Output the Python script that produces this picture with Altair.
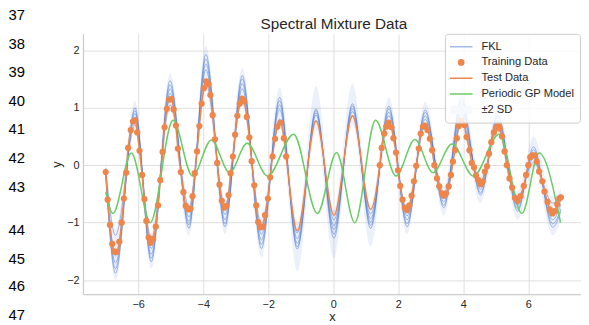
import altair as alt
import pandas as pd

# ---------------- data ----------------
# training points (orange dots), left block
train_left_x = [-7.00, -6.94, -6.87, -6.80, -6.74, -6.67, -6.58, -6.51, -6.44, -6.37,
                -6.31, -6.23, -6.16, -6.09, -6.03, -5.96, -5.88, -5.81, -5.75, -5.68,
                -5.62, -5.54, -5.46, -5.39, -5.32, -5.25, -5.19, -5.12, -5.05, -4.98,
                -4.91, -4.84, -4.78, -4.69, -4.61, -4.54, -4.46, -4.39, -4.33, -4.26,
                -4.19, -4.12, -4.05, -3.98, -3.91, -3.84, -3.78, -3.71, -3.64, -3.57,
                -3.50, -3.43, -3.36, -3.29, -3.22, -3.16, -3.09, -3.02, -2.95, -2.88,
                -2.81, -2.74, -2.66, -2.58, -2.51, -2.43, -2.37, -2.31, -2.24, -2.17,
                -2.10, -2.01, -1.94, -1.87, -1.79, -1.72, -1.62, -1.52, -1.45]
train_left_y = [-0.12, -0.60, -1.04, -1.37, -1.50, -1.51, -1.33, -1.00, -0.58, -0.13,
                0.30, 0.61, 0.76, 0.78, 0.57, 0.25, -0.17, -0.59, -0.97, -1.26,
                -1.35, -1.28, -1.07, -0.70, -0.26, 0.23, 0.66, 0.98, 1.14, 1.15,
                0.97, 0.69, 0.29, -0.12, -0.47, -0.71, -0.77, -0.76, -0.54, -0.14,
                0.24, 0.68, 1.07, 1.34, 1.46, 1.41, 1.22, 0.87, 0.45, 0.04,
                -0.34, -0.62, -0.74, -0.71, -0.52, -0.14, 0.15, 0.53, 0.86, 1.07,
                1.16, 1.11, 0.84, 0.48, 0.07, -0.35, -0.70, -0.99, -1.08, -1.07,
                -0.87, -0.58, -0.21, 0.15, 0.46, 0.67, 0.74, 0.47, 0.15]
# training points, right block
train_right_x = [1.43, 1.49, 1.57, 1.63, 1.70, 1.79, 1.85, 1.93, 1.99, 2.06,
                 2.13, 2.20, 2.27, 2.34, 2.41, 2.48, 2.55, 2.63, 2.69, 2.76,
                 2.83, 2.90, 2.97, 3.04, 3.11, 3.19, 3.26, 3.34, 3.40, 3.47,
                 3.55, 3.62, 3.68, 3.75, 3.80, 3.86, 3.94, 4.03, 4.10, 4.19,
                 4.26, 4.33, 4.39, 4.46, 4.53, 4.59, 4.66, 4.73, 4.79, 4.86,
                 4.94, 5.00, 5.07, 5.12, 5.19, 5.27, 5.34, 5.42, 5.50, 5.59,
                 5.67, 5.76, 5.86, 5.93, 6.00, 6.06, 6.13, 6.20, 6.26, 6.33,
                 6.43, 6.50, 6.59, 6.66, 6.74, 6.81, 6.89, 6.95, 7.00]
train_right_y = [0.00, 0.30, 0.55, 0.67, 0.74, 0.66, 0.47, 0.22, -0.09, -0.36,
                 -0.60, -0.74, -0.78, -0.70, -0.53, -0.28, -0.01, 0.29, 0.55, 0.67,
                 0.69, 0.61, 0.46, 0.26, 0.00, -0.23, -0.37, -0.49, -0.53, -0.49,
                 -0.37, -0.17, 0.06, 0.26, 0.47, 0.68, 0.77, 0.70, 0.49, 0.26,
                 0.04, -0.04, -0.18, -0.26, -0.33, -0.29, -0.11, -0.02, 0.20, 0.40,
                 0.57, 0.65, 0.70, 0.64, 0.50, 0.24, 0.00, -0.23, -0.39, -0.57,
                 -0.62, -0.54, -0.36, -0.17, 0.00, 0.14, 0.17, 0.17, 0.06, -0.11,
                 -0.28, -0.46, -0.64, -0.77, -0.84, -0.80, -0.68, -0.58, -0.56]
# test curve in the gap between the training blocks (extrema)
gap_x = [-1.11, -0.53, 0.02, 0.59, 1.15]
gap_y = [-1.14, 0.77, -0.87, 0.86, -0.77]

# FKL samples, read at the extrema of the curves
fkl_x = [-7.00, -6.70, -6.10, -5.60, -5.02, -4.44, -3.92, -3.33, -2.80, -2.21,
         -1.65, -1.11, -0.53, 0.02, 0.59, 1.15, 1.71, 2.27, 2.83, 3.40,
         3.94, 4.53, 5.06, 5.67, 6.16, 6.75, 7.00]
fkl_s1 = [-0.18, -1.88, 1.00, -1.68, 1.47, -1.10, 1.93, -1.07, 1.56, -1.45,
          1.18, -1.46, 0.98, -1.27, 1.07, -1.10, 1.03, -1.07, 0.96, -0.74,
          1.15, -0.52, 0.88, -0.80, 0.32, -1.08, -0.80]
fkl_s2 = [-0.15, -1.80, 0.95, -1.62, 1.40, -1.04, 1.85, -1.02, 1.50, -1.38,
          1.12, -1.42, 0.95, -1.20, 1.03, -1.05, 0.98, -1.02, 0.92, -0.70,
          1.08, -0.48, 0.84, -0.76, 0.27, -1.02, -0.76]
fkl_s3 = [-0.13, -1.70, 0.90, -1.55, 1.33, -0.98, 1.76, -0.95, 1.42, -1.30,
          1.05, -1.36, 0.91, -1.12, 0.98, -0.99, 0.92, -0.95, 0.86, -0.64,
          0.98, -0.42, 0.78, -0.70, 0.20, -0.95, -0.68]
fkl_s4 = [-0.10, -1.58, 0.84, -1.45, 1.25, -0.90, 1.66, -0.86, 1.33, -1.20,
          0.97, -1.28, 0.87, -1.05, 0.93, -0.93, 0.86, -0.88, 0.80, -0.58,
          0.88, -0.36, 0.72, -0.63, 0.12, -0.85, -0.60]
fkl_s5 = [-0.05, -1.22, 0.70, -1.28, 1.05, -0.72, 1.42, -0.70, 1.15, -1.02,
          0.80, -1.18, 0.78, -0.95, 0.85, -0.85, 0.75, -0.80, 0.72, -0.48,
          0.75, -0.28, 0.62, -0.55, 0.05, -0.66, -0.50]
band_hi = [0.08, -1.12, 1.12, -1.18, 1.60, -0.62, 2.08, -0.60, 1.70, -0.92,
           1.35, -1.00, 1.38, -0.78, 1.42, -0.72, 1.18, -0.70, 1.10, -0.40,
           1.32, -0.20, 1.02, -0.45, 0.50, -0.56, -0.40]
band_lo = [-0.35, -2.00, 0.62, -1.80, 0.95, -1.22, 1.32, -1.20, 1.05, -1.60,
           0.70, -1.85, 0.62, -1.62, 0.70, -1.42, 0.65, -1.20, 0.62, -0.88,
           0.65, -0.66, 0.52, -0.95, -0.05, -1.22, -0.95]

# periodic GP model (green), read at its extrema
gp_x = [-7.00, -6.78, -6.21, -5.63, -4.93, -4.33, -3.75, -3.19, -2.65, -2.02,
        -1.22, -0.49, 0.10, 0.66, 1.30, 1.93, 2.51, 3.07, 3.65, 4.31,
        5.10, 5.80, 6.33, 6.99]
gp_y = [-0.47, -0.84, 0.21, -1.00, 0.78, -0.19, 0.44, -0.13, 0.38, -0.19,
        0.54, -0.84, 0.22, -1.00, 0.78, -0.19, 0.445, -0.13, 0.37, -0.19,
        0.54, -0.84, 0.21, -1.00]

legend_labels = ["FKL", "Training Data", "Test Data", "Periodic GP Model", "\u00b12 SD"]
legend_colors = ["#a4bbe8", "#ee854a", "#ee854a", "#6acc64", "#f5f8fd"]
legend_shapes = ["stroke",
                 "M0.23,0A0.23,0.23,0,1,1,-0.23,0A0.23,0.23,0,1,1,0.23,0Z",
                 "stroke", "stroke",
                 "M-0.87,-0.3H0.87V0.3H-0.87Z"]

chart_title = "Spectral Mixture Data"

# page line numbers at the left margin (annotation)
line_numbers = ["37", "38", "39", "40", "41", "42", "43", "44", "45", "46", "47"]
line_number_rows = [-19, 10, 39, 68, 97, 126, 155, 199, 228, 256, 285]

x_ticks = [-6, -4, -2, 0, 2, 4, 6]
y_ticks = [-2, -1, 0, 1, 2]

# ---------------- tables ----------------
train_df = pd.DataFrame({"x": train_left_x + train_right_x,
                         "y": train_left_y + train_right_y})
test_df = pd.DataFrame({"x": train_left_x + gap_x + train_right_x,
                        "y": train_left_y + gap_y + train_right_y}).sort_values("x")
samples = [fkl_s1, fkl_s2, fkl_s3, fkl_s4, fkl_s5]
fkl_df = pd.DataFrame([{"x": xv, "y": yv, "sample": i}
                       for i, s in enumerate(samples) for xv, yv in zip(fkl_x, s)])
band_df = pd.DataFrame({"x": fkl_x, "lo": band_lo, "hi": band_hi})
gp_df = pd.DataFrame({"x": gp_x, "y": gp_y})
legend_df = pd.DataFrame({"series": legend_labels})

FONT = "Liberation Sans"
W, H = 505, 264
xscale = alt.Scale(domain=[-7.7, 7.62], nice=False, zero=False)
yscale = alt.Scale(domain=[-2.245, 2.285], nice=False, zero=False)
xaxis = alt.Axis(values=x_ticks, title="x", titleY=23, titleBaseline="middle")
yaxis = alt.Axis(values=y_ticks, title="y", titleX=-27, titleBaseline="middle")


def X(f="x"):
    return alt.X(f"{f}:Q", scale=xscale, axis=xaxis, title="x")


def Y(f="y"):
    return alt.Y(f"{f}:Q", scale=yscale, axis=yaxis, title="y")


band = alt.Chart(band_df).mark_area(color="#4878d0", opacity=0.11,
                                    interpolate="monotone").encode(
    x=X(), y=Y("lo"), y2="hi:Q")

fkl = alt.Chart(fkl_df).mark_line(color="#4878d0", opacity=0.5, strokeWidth=1,
                                  interpolate="monotone").encode(
    x=X(), y=Y(), detail="sample:N")

test = alt.Chart(test_df).mark_line(color="#ee854a", strokeWidth=1.5,
                                    interpolate="monotone").encode(
    x=X(), y=Y(), order="x:Q")

gp = alt.Chart(gp_df).mark_line(color="#6acc64", strokeWidth=1.5,
                                interpolate="monotone").encode(x=X(), y=Y())

dots = alt.Chart(train_df).mark_circle(color="#ee854a", size=40, opacity=1).encode(
    x=X(), y=Y())

leg = alt.Legend(orient="none", legendX=367, legendY=0, title=None,
                 clipHeight=16, rowPadding=0, padding=5, symbolOffset=-1,
                 labelOffset=8, fillColor="rgba(255,255,255,0.8)",
                 strokeColor="#cccccc", cornerRadius=3, labelFontSize=11.3,
                 labelFont=FONT, labelColor="#262626", symbolSize=529,
                 symbolStrokeWidth=1.5)
legend_layer = alt.Chart(legend_df).mark_point(filled=True, clip=True, opacity=1).encode(
    x=alt.value(-500), y=alt.value(-500),
    fill=alt.Fill("series:N", scale=alt.Scale(domain=legend_labels, range=legend_colors), legend=leg),
    stroke=alt.Stroke("series:N", scale=alt.Scale(domain=legend_labels, range=legend_colors), legend=leg),
    shape=alt.Shape("series:N", scale=alt.Scale(domain=legend_labels, range=legend_shapes), legend=leg),
)

title_layer = alt.Chart(alt.Data(values=[{}])).mark_text(
    text=chart_title, font=FONT, fontSize=15.5, align="center", baseline="middle",
    color="#262626").encode(x=alt.value(254.5), y=alt.value(-9.5))

number_layers = [
    alt.Chart(alt.Data(values=[{}])).mark_text(
        text=lbl, font=FONT, fontSize=15, align="left", baseline="middle",
        color="#000000").encode(x=alt.value(-75.5), y=alt.value(row))
    for lbl, row in zip(line_numbers, line_number_rows)
]

chart = alt.layer(band, fkl, test, gp, dots, legend_layer, title_layer,
                  *number_layers).properties(
    width=W, height=H,
    padding={"left": 76, "top": 24, "right": 0, "bottom": 29},
    autosize=alt.AutoSizeParams(type="none"),
).configure_axis(
    grid=True, gridColor="#dedede", gridWidth=1,
    domainColor="#cccccc", domainWidth=1.25,
    ticks=False, tickSize=0, labelPadding=4,
    labelFont=FONT, labelFontSize=11, labelColor="#262626",
    titleFont=FONT, titleFontSize=13, titleColor="#262626", titleFontWeight="normal",
).configure_view(stroke=None)

chart.save("out.html", embed_options={"renderer": "svg", "actions": False})
